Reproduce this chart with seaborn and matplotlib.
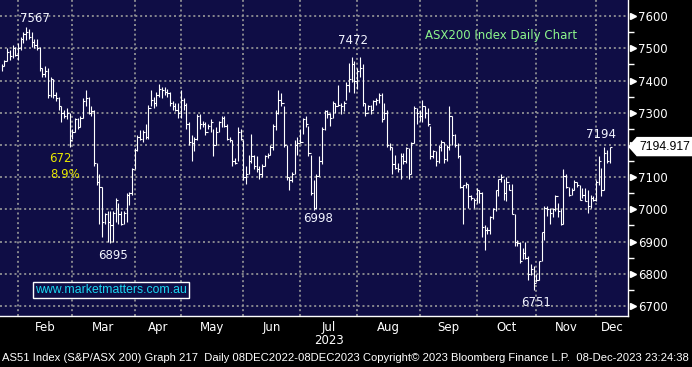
import numpy as np
import pandas as pd
import matplotlib.pyplot as plt
import matplotlib.transforms as mtransforms
from matplotlib.patches import Polygon
import seaborn as sns

# AS51 daily bars (high / low / close), 23 Jan - 08 Dec 2023
highs = [7450, 7465, 7500, 7495, 7510, 7505,
         7515, 7535, 7550, 7567, 7560, 7550, 7530, 7530, 7505, 7440, 7445, 7440, 7410, 7405,
         7365, 7350, 7320, 7310, 7315, 7300,
         7250, 7285, 7285, 7290, 7345, 7370, 7350, 7320, 7310, 7145, 7110, 7070, 6990, 6995,
         6995, 6995, 7035, 7020, 6995, 6995, 7050, 7055, 7130,
         7190, 7230, 7245, 7245, 7265, 7325, 7370, 7350, 7365, 7390, 7380, 7380, 7375, 7365,
         7335, 7330, 7330,
         7370, 7345, 7330, 7270, 7230, 7225, 7295, 7295, 7275, 7270, 7265, 7280, 7250, 7255,
         7275, 7290, 7290, 7265, 7225, 7215, 7160, 7255, 7250,
         7215, 7135, 7170, 7235, 7170, 7165, 7135, 7140, 7170, 7175, 7200, 7265, 7310, 7370,
         7360, 7320, 7200, 7100, 7115, 7215, 7225,
         7250, 7285, 7290, 7260, 7170, 7090, 7110, 7165, 7255, 7310, 7310, 7300, 7335, 7330,
         7385, 7330, 7335, 7395, 7455, 7472, 7460,
         7440, 7472, 7450, 7330, 7325, 7325, 7340, 7345, 7360, 7360, 7330, 7310, 7205, 7195,
         7170, 7145, 7175, 7175, 7195, 7190, 7210, 7320, 7315,
         7310, 7340, 7320, 7315, 7260, 7185, 7180, 7200, 7215, 7210, 7200, 7320, 7290, 7235,
         7205, 7170, 7075, 7085, 7080, 7045, 7035,
         7065, 7060, 7055, 6950, 6945, 6980, 7005, 7060, 7095, 7110, 7095, 7100, 7080, 7080,
         6985, 6905, 6900, 6880, 6900, 6855, 6830, 6825,
         6800, 6840, 6930, 7010, 7010, 7005, 7005, 7045, 7020, 7000, 7125, 7110, 7070, 7065,
         7090, 7085, 7075, 7065, 7065, 7060, 7045, 7040,
         7090, 7165, 7130, 7194, 7185, 7194.917]

lows = [7430, 7445, 7460, 7465, 7470, 7475,
        7465, 7495, 7515, 7525, 7530, 7505, 7500, 7495, 7430, 7410, 7410, 7345, 7350, 7345,
        7335, 7310, 7270, 7285, 7280, 7195,
        7220, 7240, 7250, 7255, 7285, 7320, 7295, 7290, 7135, 7075, 6955, 6915, 6955, 6900,
        6895, 6900, 6960, 6955, 6950, 6955, 6960, 7015, 7045,
        7125, 7180, 7215, 7210, 7220, 7220, 7320, 7315, 7320, 7350, 7345, 7355, 7350, 7320,
        7310, 7305, 7285,
        7285, 7310, 7250, 7200, 7150, 7180, 7215, 7250, 7255, 7230, 7250, 7240, 7165, 7200,
        7240, 7255, 7255, 7215, 7210, 7135, 7140, 7150, 7215,
        7090, 7080, 7110, 7145, 7125, 7115, 7095, 7100, 7135, 7160, 7170, 7185, 7245, 7295,
        7320, 7195, 7090, 7060, 7085, 7110, 7170,
        7205, 7235, 7255, 7165, 7045, 6998, 7000, 7105, 7140, 7245, 7285, 7260, 7285, 7300,
        7320, 7295, 7305, 7340, 7365, 7395, 7360,
        7375, 7410, 7320, 7290, 7310, 7295, 7310, 7325, 7330, 7270, 7280, 7195, 7185, 7110,
        7125, 7115, 7095, 7140, 7145, 7095, 7110, 7205, 7265,
        7275, 7270, 7285, 7260, 7155, 7160, 7135, 7145, 7180, 7145, 7150, 7185, 7200, 7195,
        7160, 7065, 6955, 7065, 7005, 7030, 7005,
        7020, 7020, 6915, 6875, 6925, 6925, 6970, 6995, 7040, 7085, 7030, 7025, 7060, 6985,
        6885, 6885, 6835, 6845, 6845, 6780, 6795, 6751,
        6775, 6780, 6840, 6905, 6980, 6955, 6975, 6995, 6975, 6950, 6955, 7065, 7040, 7045,
        7060, 7070, 7030, 7035, 7025, 6990, 7005, 7025,
        7025, 7075, 7040, 7060, 7145, 7145]

closes = [7445, 7460, 7490, 7475, 7500, 7480,
          7500, 7530, 7545, 7550, 7535, 7520, 7510, 7500, 7440, 7420, 7430, 7355, 7405, 7355,
          7345, 7320, 7300, 7290, 7300, 7215,
          7240, 7280, 7255, 7285, 7335, 7345, 7300, 7305, 7145, 7085, 7070, 6960, 6985, 6960,
          6950, 6990, 7030, 6985, 6955, 6990, 7045, 7050, 7125,
          7185, 7225, 7220, 7240, 7225, 7315, 7340, 7330, 7355, 7375, 7370, 7365, 7360, 7330,
          7320, 7310, 7300,
          7340, 7325, 7265, 7210, 7205, 7220, 7290, 7265, 7265, 7240, 7260, 7270, 7200, 7240,
          7270, 7285, 7260, 7220, 7215, 7150, 7145, 7240, 7220,
          7100, 7110, 7150, 7165, 7135, 7125, 7110, 7135, 7165, 7170, 7195, 7260, 7300, 7340,
          7330, 7200, 7100, 7090, 7110, 7200, 7205,
          7210, 7280, 7265, 7175, 7050, 7005, 7105, 7150, 7250, 7305, 7295, 7285, 7330, 7320,
          7325, 7320, 7330, 7385, 7405, 7450, 7400,
          7430, 7440, 7330, 7300, 7320, 7310, 7335, 7340, 7355, 7280, 7300, 7200, 7195, 7140,
          7130, 7125, 7165, 7150, 7190, 7110, 7205, 7315, 7300,
          7290, 7320, 7300, 7265, 7165, 7180, 7150, 7195, 7210, 7155, 7195, 7290, 7230, 7200,
          7165, 7070, 7075, 7080, 7040, 7035, 7030,
          7060, 7050, 6945, 6935, 6935, 6975, 7000, 7060, 7095, 7100, 7050, 7085, 7060, 6985,
          6900, 6895, 6840, 6865, 6850, 6800, 6815, 6770,
          6780, 6840, 6930, 7005, 7000, 6990, 7000, 7040, 6995, 6955, 7105, 7070, 7045, 7060,
          7085, 7075, 7030, 7045, 7025, 7010, 7035, 7030,
          7085, 7150, 7060, 7175, 7150, 7194.917]

holidays = ["2023-01-26", "2023-04-07", "2023-04-10", "2023-04-25", "2023-06-12"]
month_names = ["Feb", "Mar", "Apr", "May", "Jun", "Jul", "Aug", "Sep", "Oct", "Nov", "Dec"]
y_ticks = [6700, 6800, 6900, 7000, 7100, 7200, 7300, 7400, 7500, 7600]

days = pd.bdate_range("2023-01-23", "2023-12-08")
days = days[~days.isin(pd.to_datetime(holidays))]
df = pd.DataFrame({"date": days, "high": highs, "low": lows, "close": closes})
df["i"] = np.arange(len(df))

navy = "#0f0d45"
sns.set_theme(style="dark", rc={"axes.facecolor": navy, "figure.facecolor": "black",
                                "axes.edgecolor": "white", "text.color": "white",
                                "xtick.color": "white", "ytick.color": "white"})
plt.rcParams["font.family"] = ["DejaVu Sans"]
narrow = ["Liberation Sans", "DejaVu Sans"]

fig = plt.figure(figsize=(6.92, 3.67), dpi=100)
ax = fig.add_axes([0, 1 - 316 / 367, 628 / 692, 316 / 367])

# HLC bars, close tick runs across to the next bar
ax.vlines(df["i"], df["low"], df["high"], color="white", lw=0.8)
ax.hlines(df["close"], df["i"], df["i"] + 0.85, color="white", lw=0.8)

ax.set_xlim(-0.63, 230.8)
ax.set_ylim(6669, 7650)
last = len(closes) - 1

# month grid / labels
starts = [int(df.index[df["date"].dt.month == m][0]) for m in range(2, 13)]
ends = starts[1:] + [ax.get_xlim()[1]]
mids = [(a + b) / 2 for a, b in zip(starts, ends)]
ax.set_xticks(starts)
ax.set_xticklabels([])
ax.set_xticks(mids, minor=True)
ax.set_xticklabels(month_names, minor=True, fontsize=8.5)
ax.tick_params(axis="x", which="major", length=4, width=1, color="white", direction="out")
ax.tick_params(axis="x", which="minor", length=0, pad=3.5)
ax.text(mids[month_names.index("Jul")], -25 / 316, "2023", transform=ax.get_xaxis_transform(),
        ha="center", va="center", fontsize=8.5, color="white")

# the price tag covers the tick label next to the last close
ax.yaxis.tick_right()
ax.set_yticks(y_ticks)
ax.set_yticklabels(["" if abs(t - closes[last]) < 30 else str(t) for t in y_ticks], fontsize=8.5)
ax.set_yticks(np.arange(6750, 7600, 100), minor=True)
ax.tick_params(axis="y", which="major", length=0, pad=7)
ax.tick_params(axis="y", which="minor", length=4, width=1, color="white", direction="out")
ax.plot(np.full(len(y_ticks), 1 + 5 / 628), y_ticks, ">", ms=4, color="white",
        transform=ax.get_yaxis_transform(), clip_on=False)

ax.grid(True, which="major", color="#9a9a9a", lw=1.2, linestyle=(0, (1.2, 1.7)))
for s in ["top", "left"]:
    ax.spines[s].set_visible(False)
for s in ["right", "bottom"]:
    ax.spines[s].set_color("white")
    ax.spines[s].set_linewidth(1)

# level labels
lab = dict(fontsize=8.5, color="#f2f4ff", ha="center", va="center", textcoords="offset points")
top = int(np.argmax(highs))
low1 = int(np.argmin(lows[:100]))
low2 = 100 + int(np.argmin(lows[100:130]))
top2 = 100 + int(np.argmax(highs[100:160]))
low3 = int(np.argmin(lows))
ax.annotate(f"{highs[top]:.0f}", (top, highs[top]), xytext=(6, 6), **lab)
ax.annotate(f"{lows[low1]:.0f}", (low1, lows[low1]), xytext=(2, -9), **lab)
ax.annotate(f"{lows[low2]:.0f}", (low2, lows[low2]), xytext=(3, -6), **lab)
ax.annotate(f"{highs[top2]:.0f}", (top2, highs[top2]), xytext=(1, 12), **lab)
ax.annotate(f"{lows[low3]:.0f}", (low3, lows[low3]), xytext=(2, -9), **lab)
ax.annotate(f"{int(closes[last])}", (last, highs[last]), xytext=(-6, 9), **lab)

drop = highs[top] - lows[low1]
ax.text(21.5, 7159, f"{drop:.0f}", color="#e8e800", fontsize=8.5, ha="center", va="center")
ax.text(23.3, 7109, f"{drop / highs[top] * 100:.1f}%", color="#e8e800", fontsize=8.5,
        ha="center", va="center")

ax.text(501 / 628, 1 - 36 / 316, "ASX200 Index Daily Chart", transform=ax.transAxes,
        color="#8cf58c", fontsize=8.5, ha="center", va="center")
ax.text(111 / 628, 1 - 290 / 316, "www.marketmatters.com.au", transform=ax.transAxes,
        color="#19d7f0", fontsize=8.8, family=narrow, ha="center", va="center",
        bbox=dict(boxstyle="square,pad=0.15", fc=navy, ec="white", lw=1))

# last price tag
yc = ax.transData.transform((0, closes[last]))[1]
tag = Polygon([(629, yc), (637, yc + 9), (692, yc + 9), (692, yc - 9), (637, yc - 9)],
              closed=True, transform=mtransforms.IdentityTransform(), fc="white", ec="white")
fig.add_artist(tag)
fig.text(639 / 692, yc / 367, f"{closes[last]:.3f}", color="black", fontsize=8.8,
         family=narrow, ha="left", va="center")

footer = ("AS51 Index (S&P/ASX 200) Graph 217  Daily 08DEC2022-08DEC2023 "
          "Copyright\u00a9 2023 Bloomberg Finance L.P.  08-Dec-2023 23:24:38")
fig.text(2 / 692, 1 - 358 / 367, footer, color="white", fontsize=8.1, family=narrow,
         ha="left", va="center")

fig.savefig("out.png", dpi=100, facecolor="black")
